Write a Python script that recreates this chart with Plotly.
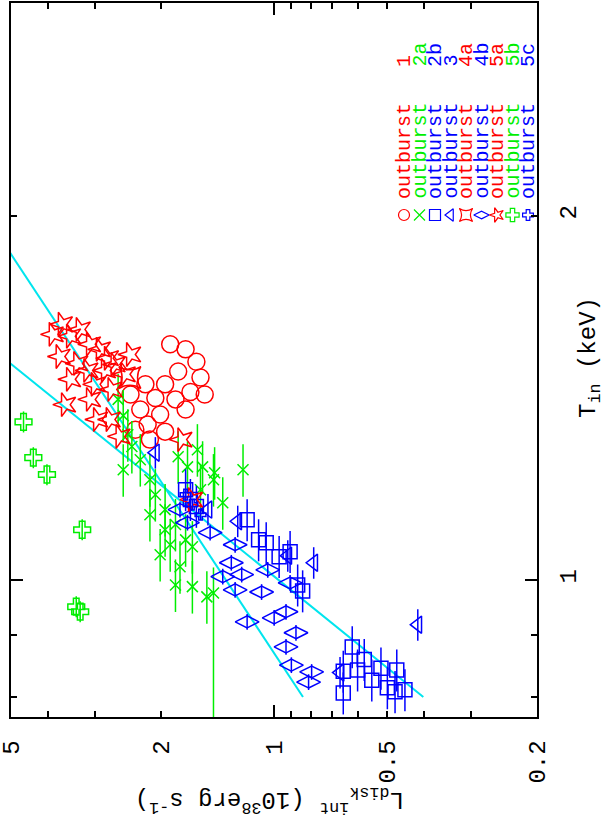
import numpy as np
import plotly.graph_objects as go

# ---------------- data (L in 1e38 erg/s, T in keV) ----------------
o1_L = [1.89, 1.72, 1.61, 1.80, 1.57, 1.95, 1.67, 1.83, 2.07, 2.27, 2.01, 2.17, 2.34, 1.95, 2.14, 1.72, 1.53, 2.41, 2.20]
o1_T = [1.566, 1.551, 1.515, 1.487, 1.470, 1.451, 1.430, 1.410, 1.414, 1.383, 1.370, 1.344, 1.331, 1.326, 1.306, 1.383, 1.423, 1.423, 1.451]

o2a_L = [2.60, 2.52, 2.45, 2.39, 2.52, 2.27, 2.14, 2.07, 2.14, 1.95, 1.83, 1.95, 1.89, 2.01, 1.72, 1.65, 1.78, 1.83, 1.65, 1.51, 1.45, 1.80, 1.60, 1.70, 1.55, 1.44, 1.21, 1.45, 1.37, 1.57]
o2a_T = [1.410, 1.367, 1.318, 1.289, 1.233, 1.257, 1.210, 1.176, 1.132, 1.143, 1.111, 1.100, 1.069, 1.049, 1.079, 1.065, 1.025, 0.990, 0.987, 0.968, 0.975, 1.264, 1.281, 1.240, 1.240, 1.226, 1.233, 1.210, 1.158, 1.187]
o2a_Tlo = [0.05] * 20 + [0.30] + [0.05] * 9
o2a_Thi = [0.05] * 30

o2b_L = [1.72, 1.67, 1.61, 1.18, 1.10, 1.05, 0.97, 0.907, 0.84, 0.866, 0.62, 0.60, 0.576, 0.52, 0.655, 0.655, 0.50, 0.477, 0.472, 0.55, 0.449]
o2b_T = [1.187, 1.165, 1.150, 1.121, 1.079, 1.073, 1.045, 1.055, 0.979, 0.990, 0.880, 0.842, 0.859, 0.845, 0.840, 0.806, 0.814, 0.808, 0.842, 0.826, 0.811]

o3_L = [2.07, 1.50, 1.25, 0.785, 0.415, 0.668, 0.92]
o3_T = [1.274, 1.143, 1.118, 1.033, 0.918, 0.838, 1.047]

o4a_L = [2.42]
o4a_T = [1.470]

o4b_L = [1.78, 1.70, 1.48, 1.27, 1.30, 1.37, 1.22, 1.27, 1.08, 1.04, 0.907, 1.18, 1.00, 0.93, 0.875, 0.93, 0.90, 0.795, 0.81]
o4b_T = [1.143, 1.115, 1.094, 1.069, 1.033, 1.006, 1.010, 0.981, 0.977, 1.019, 0.994, 0.923, 0.930, 0.941, 0.904, 0.880, 0.850, 0.839, 0.823]

o5a_L = [3.87, 3.48, 3.66, 3.28, 3.08, 3.71, 3.33, 3.13, 2.90, 2.76, 2.65, 2.81, 2.49, 2.99, 3.48, 2.70, 3.08, 2.95, 2.73, 2.57, 1.76, 1.65, 3.59, 2.41]
o5a_T = [1.596, 1.590, 1.627, 1.611, 1.566, 1.530, 1.510, 1.490, 1.551, 1.525, 1.507, 1.490, 1.479, 1.451, 1.465, 1.437, 1.410, 1.357, 1.357, 1.314, 1.306, 1.165, 1.396, 1.536]

o5b_L = [4.64, 4.37, 4.02, 3.24, 3.36, 3.28]
o5b_T = [1.351, 1.262, 1.222, 1.100, 0.950, 0.941]

o5c_L = [1.72, 1.65, 1.57]
o5c_T = [1.176, 1.154, 1.132]

# model lines: log L = a + n log T
line_a = [-0.011, 0.1288]
line_n = [3.98, 2.12]
line_T = [[0.80, 1.51], [0.80, 1.87]]

legend_words = ["outburst"] * 9
legend_ids = ["1", "2a", "2b", "3", "4a", "4b", "5a", "5b", "5c"]

RED, GREEN, BLUE, CYAN = "#ff0000", "#00ee00", "#0000ff", "#00e5ee"
FONT = "Liberation Mono"

series = [
    (o1_L, o1_T, RED, "circle-open", 17, 0, 0.0),
    (o2a_L, o2a_T, GREEN, "x-thin-open", 11, 0, None),
    (o2b_L, o2b_T, BLUE, "square-open", 14, 0, 0.04),
    (o3_L, o3_T, BLUE, "triangle-left-open", 15, 0, 0.03),
    (o4a_L, o4a_T, RED, "star-square-open", 20, 0, 0.0),
    (o4b_L, o4b_T, BLUE, "diamond-wide-open", 17, 0, 0.015),
    (o5a_L, o5a_T, RED, "star-open", 18, -90, 0.0),
    (o5b_L, o5b_T, GREEN, "cross-open", 14, 0, 0.02),
    (o5c_L, o5c_T, BLUE, "cross-open", 9, 0, 0.01),
]

fig = go.Figure()

for a, n, tr in zip(line_a, line_n, line_T):
    t = np.array(tr)
    fig.add_trace(go.Scatter(x=10 ** (a + n * np.log10(t)), y=t, mode="lines",
                             line=dict(color=CYAN, width=2), showlegend=False, hoverinfo="skip"))

for i, (L, T, col, sym, size, ang, terr) in enumerate(series):
    if terr is None:
        ey = dict(type="data", symmetric=False,
                  array=[h * t for h, t in zip(o2a_Thi, T)],
                  arrayminus=[l * t for l, t in zip(o2a_Tlo, T)],
                  color=col, thickness=1.5, width=0)
    elif terr > 0:
        ey = dict(type="percent", value=terr * 100, color=col, thickness=1.5, width=0)
    else:
        ey = None
    fig.add_trace(go.Scatter(
        x=L, y=T, mode="markers", name="outburst " + legend_ids[i], showlegend=False,
        marker=dict(symbol=sym, size=size, color=col, angle=ang, line=dict(color=col, width=1.5)),
        error_y=ey,
    ))

# custom rotated legend on an auxiliary 0..1 axis pair
leg_x = [(404 + 15.5 * i - 11) / 526 for i in range(len(series))]
leg_y = (717 - 215) / 714
for i, (L, T, col, sym, size, ang, terr) in enumerate(series):
    fig.add_trace(go.Scatter(
        x=[leg_x[i]], y=[leg_y], xaxis="x3", yaxis="y3", mode="markers", showlegend=False,
        marker=dict(symbol=sym, size=min(size, 11) if i != 4 else 12, color=col, angle=ang,
                    line=dict(color=col, width=1.2)),
        hoverinfo="skip"))
    fig.add_annotation(x=leg_x[i], y=(717 - 201) / 714, xref="paper", yref="paper",
                       text=legend_words[i] + "\u00a0\u00a0\u00a0" + legend_ids[i],
                       textangle=-90, showarrow=False,
                       xanchor="center", yanchor="bottom",
                       font=dict(family=FONT, size=20, color=col))

axis_common = dict(showgrid=False, zeroline=False, showline=True, linecolor="black",
                   linewidth=1.5, ticks="inside", tickcolor="black", tickwidth=1.5,
                   automargin=False, ticklabeloverflow="allow")

XR = [np.log10(5.01), np.log10(0.2)]
YR = [np.log10(0.77), np.log10(3.0)]

fig.update_layout(
    width=609, height=816,
    margin=dict(l=11, r=72, t=3, b=99, autoexpand=False),
    paper_bgcolor="white", plot_bgcolor="white",
    showlegend=False,
    xaxis=dict(type="log", range=XR, mirror="allticks",
               tickvals=[0.2, 0.5, 1, 2, 5], ticktext=["0.2", "0.5", "1", "2", "5"],
               ticklen=6, tickangle=-90, ticklabelstandoff=12,
               minor=dict(tickvals=[0.3, 0.4, 0.6, 0.7, 0.8, 0.9, 3, 4], ticks="inside",
                          ticklen=6, tickcolor="black", tickwidth=1.5),
               tickfont=dict(family=FONT, size=24, color="black"), **axis_common),
    xaxis2=dict(type="log", range=XR, overlaying="x", anchor="y",
                side="bottom", tickvals=[1], ticklen=12, showticklabels=False, mirror="allticks",
                showgrid=False, zeroline=False, showline=False, ticks="inside",
                tickcolor="black", tickwidth=1.5, automargin=False),
    yaxis=dict(type="log", range=YR, side="right", mirror="allticks",
               tickvals=[1, 2], ticktext=["1", "2"], ticklen=6, tickangle=-90,
               ticklabelstandoff=8,
               minor=dict(tickvals=[0.8, 0.9, 3], ticks="inside", ticklen=6,
                          tickcolor="black", tickwidth=1.5),
               tickfont=dict(family=FONT, size=24, color="black"), **axis_common),
    yaxis2=dict(type="log", range=YR, overlaying="y", anchor="x",
                side="right", tickvals=[1], ticklen=12, showticklabels=False, mirror="allticks",
                showgrid=False, zeroline=False, showline=False, ticks="inside",
                tickcolor="black", tickwidth=1.5, automargin=False),
    xaxis3=dict(range=[0, 1], overlaying="x", anchor="y3", visible=False, automargin=False),
    yaxis3=dict(range=[0, 1], overlaying="y", anchor="x3", visible=False, automargin=False),
)

# dummy trace so that the tick-only overlay axes are drawn
fig.add_trace(go.Scatter(x=[1], y=[1], xaxis="x2", yaxis="y2", mode="markers",
                         marker=dict(opacity=0), showlegend=False, hoverinfo="skip"))

fig.add_annotation(x=(270 - 11) / 526, y=(717 - 800) / 714, xref="paper", yref="paper",
                   text="L<sub>disk</sub><sup>int</sup> (10<sup>38</sup>erg s<sup>-1</sup>)",
                   textangle=180, showarrow=False, xanchor="center", yanchor="middle",
                   font=dict(family=FONT, size=24, color="black"))
fig.add_annotation(x=(590 - 11) / 526, y=(717 - 358) / 714, xref="paper", yref="paper",
                   text="T<sub>in</sub> (keV)", textangle=-90, showarrow=False,
                   xanchor="center", yanchor="middle",
                   font=dict(family=FONT, size=24, color="black"))

fig.write_html("out.html", config={"displayModeBar": False},
               post_script="document.body.style.margin='0';document.body.style.overflow='hidden';")
